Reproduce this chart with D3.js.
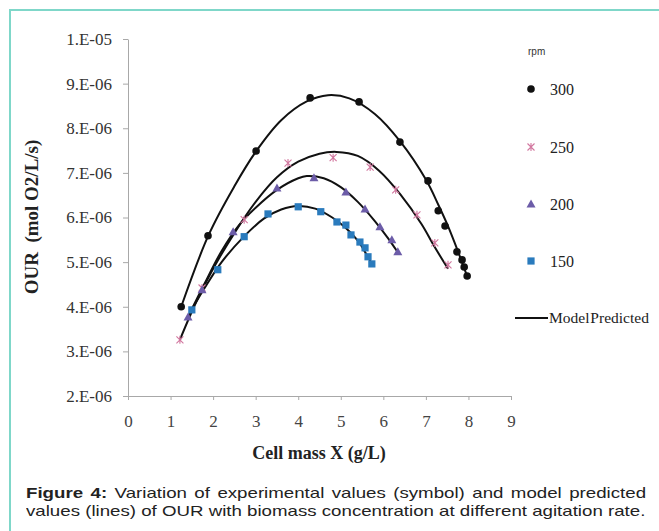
<!DOCTYPE html>
<meta charset="utf-8">
<script src="https://d3js.org/d3.v7.min.js"></script>
<style>
  body { margin: 0; background: #fff; }
  #chart { position: absolute; top: 0; left: 0; }
  .caption {
    position: absolute; left: 26px; width: 498px;
    font-family: "Liberation Sans", Arial, sans-serif; font-size: 15px; color: #222;
    text-align: justify; text-align-last: justify; line-height: 18px;
    transform: scaleX(1.245); transform-origin: 0 0;
  }
  .caption.last { text-align-last: left; white-space: nowrap; }
</style>
<div id="chart"></div>
<div class="caption" style="top:484px;"><b>Figure 4:</b> Variation of experimental values (symbol) and model predicted</div>
<div class="caption last" style="top:502px;">values (lines) of OUR with biomass concentration at different agitation rate.</div>
<script>
// experimental points (X in g/L, OUR in mol O2/L/s)
var x300 = [1.25, 1.88, 3.01, 4.28, 5.43, 6.39, 7.05, 7.29, 7.45, 7.73, 7.85, 7.90, 7.97];
var y300 = [4.00e-6, 5.59e-6, 7.49e-6, 8.68e-6, 8.59e-6, 7.69e-6, 6.82e-6, 6.15e-6, 5.81e-6, 5.23e-6, 5.05e-6, 4.89e-6, 4.69e-6];

var x250 = [1.22, 1.74, 2.73, 3.76, 4.82, 5.69, 6.29, 6.79, 7.21, 7.52];
var y250 = [3.26e-6, 4.42e-6, 5.95e-6, 7.22e-6, 7.34e-6, 7.13e-6, 6.62e-6, 6.06e-6, 5.43e-6, 4.94e-6];

var x200 = [1.41, 1.74, 2.47, 3.50, 4.37, 5.12, 5.57, 5.92, 6.20, 6.34];
var y200 = [3.77e-6, 4.38e-6, 5.68e-6, 6.66e-6, 6.89e-6, 6.57e-6, 6.19e-6, 5.79e-6, 5.50e-6, 5.23e-6];

var x150 = [1.50, 2.11, 2.73, 3.29, 4.00, 4.53, 4.91, 5.12, 5.24, 5.45, 5.57, 5.64, 5.73];
var y150 = [3.93e-6, 4.83e-6, 5.57e-6, 6.08e-6, 6.24e-6, 6.13e-6, 5.90e-6, 5.83e-6, 5.61e-6, 5.45e-6, 5.32e-6, 5.12e-6, 4.96e-6];

// model predicted curves
var mx300 = [1.25, 1.9, 2.5, 3.0, 3.6, 4.2, 4.7, 5.2, 5.8, 6.4, 7.0, 7.3, 7.5, 7.75, 7.97];
var my300 = [4.00e-6, 5.62e-6, 6.70e-6, 7.47e-6, 8.18e-6, 8.60e-6, 8.74e-6, 8.67e-6, 8.32e-6, 7.70e-6, 6.85e-6, 6.27e-6, 5.85e-6, 5.25e-6, 4.68e-6];
var mx250 = [1.22, 1.6, 2.0, 2.5, 3.0, 3.5, 4.0, 4.5, 4.9, 5.4, 5.9, 6.4, 6.9, 7.2, 7.52];
var my250 = [3.26e-6, 4.10e-6, 4.85e-6, 5.65e-6, 6.35e-6, 6.90e-6, 7.25e-6, 7.43e-6, 7.47e-6, 7.38e-6, 7.05e-6, 6.52e-6, 5.85e-6, 5.35e-6, 4.85e-6];
var mx200 = [1.41, 1.8, 2.2, 2.6, 3.0, 3.5, 4.0, 4.2, 4.6, 5.0, 5.4, 5.8, 6.1, 6.34];
var my200 = [3.77e-6, 4.52e-6, 5.25e-6, 5.82e-6, 6.22e-6, 6.62e-6, 6.88e-6, 6.93e-6, 6.88e-6, 6.68e-6, 6.35e-6, 5.92e-6, 5.55e-6, 5.22e-6];
var mx150 = [1.46, 1.8, 2.2, 2.7, 3.2, 3.6, 4.0, 4.4, 4.8, 5.1, 5.4, 5.6, 5.73];
var my150 = [3.88e-6, 4.42e-6, 5.00e-6, 5.55e-6, 5.98e-6, 6.18e-6, 6.26e-6, 6.20e-6, 6.00e-6, 5.78e-6, 5.48e-6, 5.18e-6, 4.96e-6];

var xTicks = [0, 1, 2, 3, 4, 5, 6, 7, 8, 9];
var yTicks = [2e-6, 3e-6, 4e-6, 5e-6, 6e-6, 7e-6, 8e-6, 9e-6, 1e-5];
var yTickLabels = ["2.E-06", "3.E-06", "4.E-06", "5.E-06", "6.E-06", "7.E-06", "8.E-06", "9.E-06", "1.E-05"];

var rpm = ["300", "250", "200", "150"];
var colors = ["#111111", "#d2779f", "#6c5ca8", "#2a7bbd"];

var width = 659, height = 531;
var svg = d3.select("#chart").append("svg")
    .attr("width", width)
    .attr("height", height);

// teal frame (top and left)
svg.append("line").attr("x1", 9).attr("x2", 659).attr("y1", 10).attr("y2", 10)
  .attr("stroke", "#7fd7c9").attr("stroke-width", 2);
svg.append("line").attr("x1", 10).attr("x2", 10).attr("y1", 9).attr("y2", 531)
  .attr("stroke", "#7fd7c9").attr("stroke-width", 2);

var x = d3.scaleLinear().domain([0, 9]).range([128, 511]);
var y = d3.scaleLinear().domain([2e-6, 1e-5]).range([396, 39]);

var serif = "'Liberation Serif', 'Times New Roman', serif";

// Y axis
var gy = svg.append("g")
  .attr("transform", "translate(" + x(0) + ",0)")
  .call(d3.axisLeft(y).tickValues(yTicks).tickFormat(function(d, i) { return yTickLabels[i]; })
    .tickSize(5).tickSizeOuter(0).tickPadding(11));
gy.select(".domain").attr("stroke", "#a8a8a8");
gy.selectAll(".tick line").attr("stroke", "#a8a8a8");
gy.selectAll("text").attr("font-family", serif).attr("font-size", "17px").attr("fill", "#333");

// X axis
var gx = svg.append("g")
  .attr("transform", "translate(0," + y(2e-6) + ")")
  .call(d3.axisBottom(x).tickValues(xTicks).tickSize(4).tickSizeOuter(0).tickPadding(15));
gx.select(".domain").attr("stroke", "#a8a8a8");
gx.selectAll(".tick line").attr("stroke", "#a8a8a8");
gx.selectAll("text").attr("font-family", serif).attr("font-size", "17px").attr("fill", "#444");

// axis titles
svg.append("text")
  .attr("transform", "translate(38,217) rotate(-90)")
  .attr("text-anchor", "middle")
  .attr("xml:space", "preserve")
  .style("white-space", "pre")
  .attr("font-family", serif).attr("font-size", "19px").attr("font-weight", "bold").attr("fill", "#222")
  .text("OUR  (mol O2/L/s)");
svg.append("text")
  .attr("x", 319).attr("y", 459)
  .attr("text-anchor", "middle")
  .attr("font-family", serif).attr("font-size", "18px").attr("font-weight", "bold").attr("fill", "#222")
  .text("Cell mass X (g/L)");

// model lines
var line = d3.line()
  .x(function(d) { return x(d[0]); })
  .y(function(d) { return y(d[1]); })
  .curve(d3.curveCatmullRom.alpha(0.5));
[[mx300, my300], [mx250, my250], [mx200, my200], [mx150, my150]].forEach(function(m) {
  svg.append("path")
    .datum(d3.zip(m[0], m[1]))
    .attr("d", line)
    .attr("fill", "none")
    .attr("stroke", "#111")
    .attr("stroke-width", 2);
});

// marker drawing
function marker(g, kind, color) {
  if (kind == 0) {
    g.append("circle").attr("r", 3.8).attr("fill", color);
  } else if (kind == 1) {
    g.append("path").attr("d", "M-3.5,-3.5L3.5,3.5M-3.5,3.5L3.5,-3.5M0,-4L0,4")
      .attr("stroke", color).attr("stroke-width", 1.1).attr("fill", "none");
  } else if (kind == 2) {
    g.append("path").attr("d", "M0,-4.5L4.5,3.5L-4.5,3.5Z").attr("fill", color);
  } else {
    g.append("rect").attr("x", -3.6).attr("y", -3.6).attr("width", 7.2).attr("height", 7.2).attr("fill", color);
  }
}

var series = [[x300, y300], [x250, y250], [x200, y200], [x150, y150]];
series.forEach(function(s, k) {
  svg.append("g").selectAll("g")
    .data(d3.zip(s[0], s[1]))
    .enter().append("g")
      .attr("transform", function(d) { return "translate(" + x(d[0]) + "," + y(d[1]) + ")"; })
      .each(function() { marker(d3.select(this), k, colors[k]); });
});

// legend
svg.append("text").attr("x", 528).attr("y", 55)
  .attr("font-family", "'Liberation Sans', Arial, sans-serif").attr("font-size", "10px").attr("fill", "#333")
  .text("rpm");
var legendY = [89, 147, 204, 261];
rpm.forEach(function(r, k) {
  var g = svg.append("g").attr("transform", "translate(531," + legendY[k] + ")");
  marker(g, k, colors[k]);
  svg.append("text").attr("x", 550).attr("y", legendY[k] + 5.5)
    .attr("font-family", serif).attr("font-size", "16px").attr("fill", "#222")
    .text(r);
});
svg.append("line").attr("x1", 515).attr("x2", 548).attr("y1", 318).attr("y2", 318)
  .attr("stroke", "#111").attr("stroke-width", 2);
svg.append("text").attr("x", 549).attr("y", 323)
  .attr("font-family", serif).attr("font-size", "15.5px").attr("fill", "#222")
  .attr("word-spacing", "-3px")
  .text("Model Predicted");
</script>
